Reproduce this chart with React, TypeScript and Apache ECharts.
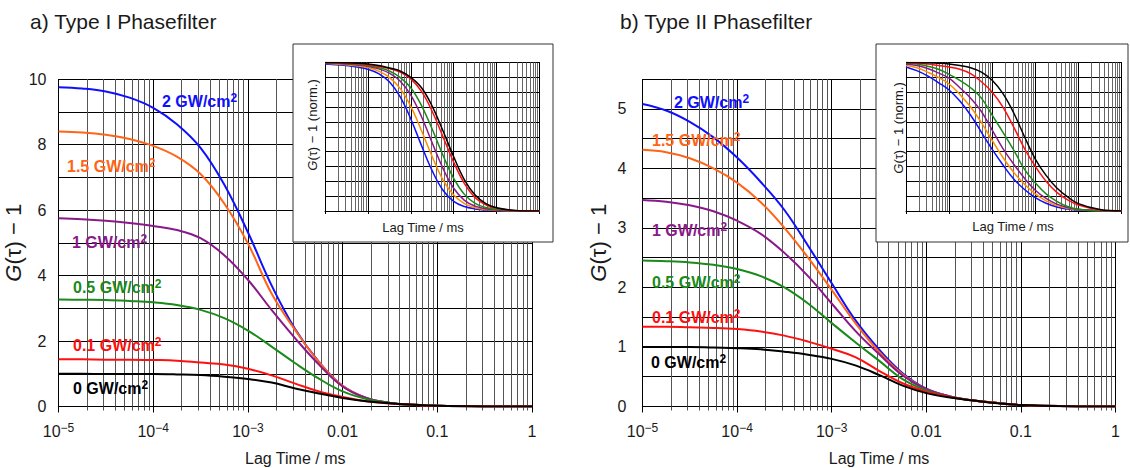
import React, { useEffect, useRef } from "react";
import * as echarts from "echarts";

// log10 of lag time (ms)
const LOG_TAU = [-5, -4.75, -4.5, -4.25, -4, -3.75, -3.5, -3.25, -3, -2.75, -2.5, -2.25, -2, -1.75, -1.5, -1.25, -1, -0.5, 0];

const INTENSITY_LABELS = ["2", "1.5", "1", "0.5", "0.1", "0"];

// Panel a) Type I Phasefilter, G(tau) - 1
const A_2 = [9.75, 9.71, 9.62, 9.43, 9.12, 8.62, 7.9, 6.78, 5.32, 3.7, 2.36, 1.36, 0.63, 0.26, 0.11, 0.05, 0.02, 0.003, 0];
const A_15 = [8.4, 8.37, 8.3, 8.17, 7.96, 7.63, 7.1, 6.2, 4.98, 3.45, 2.33, 1.36, 0.63, 0.26, 0.11, 0.05, 0.02, 0.003, 0];
const A_1 = [5.75, 5.72, 5.67, 5.6, 5.51, 5.39, 5.14, 4.62, 3.87, 2.95, 2.08, 1.28, 0.61, 0.26, 0.11, 0.05, 0.02, 0.003, 0];
const A_05 = [3.27, 3.26, 3.25, 3.22, 3.18, 3.1, 2.95, 2.7, 2.32, 1.83, 1.32, 0.85, 0.46, 0.23, 0.11, 0.05, 0.02, 0.003, 0];
const A_01 = [1.44, 1.44, 1.43, 1.43, 1.42, 1.4, 1.34, 1.28, 1.15, 0.95, 0.7, 0.46, 0.29, 0.16, 0.09, 0.05, 0.02, 0.003, 0];
const A_0 = [1.0, 1.0, 0.99, 0.99, 0.99, 0.98, 0.96, 0.91, 0.84, 0.73, 0.55, 0.4, 0.26, 0.16, 0.1, 0.05, 0.02, 0.003, 0];

// Panel b) Type II Phasefilter, G(tau) - 1
const B_2 = [5.08, 4.97, 4.78, 4.52, 4.18, 3.77, 3.3, 2.7, 2.07, 1.45, 0.96, 0.56, 0.3, 0.17, 0.1, 0.06, 0.025, 0.005, 0];
const B_15 = [4.31, 4.27, 4.17, 4.0, 3.76, 3.43, 3.0, 2.5, 1.96, 1.4, 0.92, 0.54, 0.29, 0.17, 0.1, 0.06, 0.025, 0.005, 0];
const B_1 = [3.47, 3.44, 3.38, 3.28, 3.12, 2.9, 2.58, 2.19, 1.73, 1.27, 0.88, 0.52, 0.29, 0.17, 0.1, 0.06, 0.025, 0.005, 0];
const B_05 = [2.45, 2.44, 2.42, 2.38, 2.31, 2.19, 2.0, 1.73, 1.4, 1.08, 0.77, 0.46, 0.27, 0.16, 0.1, 0.06, 0.025, 0.005, 0];
const B_01 = [1.34, 1.34, 1.33, 1.32, 1.3, 1.26, 1.19, 1.09, 0.97, 0.83, 0.6, 0.39, 0.25, 0.16, 0.1, 0.06, 0.025, 0.005, 0];
const B_0 = [1.0, 1.0, 1.0, 0.99, 0.98, 0.96, 0.92, 0.87, 0.8, 0.69, 0.53, 0.35, 0.225, 0.15, 0.1, 0.055, 0.025, 0.005, 0];

// Inset a) normalized
const IA_2 = [0.99, 0.985, 0.98, 0.97, 0.955, 0.925, 0.87, 0.77, 0.62, 0.44, 0.27, 0.14, 0.065, 0.03, 0.014, 0.006, 0.002, 0, 0];
const IA_15 = [0.995, 0.99, 0.985, 0.978, 0.966, 0.942, 0.9, 0.826, 0.704, 0.54, 0.365, 0.21, 0.107, 0.05, 0.022, 0.01, 0.004, 0, 0];
const IA_1 = [0.997, 0.995, 0.99, 0.983, 0.975, 0.957, 0.928, 0.875, 0.78, 0.635, 0.458, 0.287, 0.153, 0.072, 0.033, 0.015, 0.007, 0.001, 0];
const IA_05 = [0.998, 0.996, 0.993, 0.988, 0.98, 0.965, 0.943, 0.9, 0.83, 0.71, 0.55, 0.375, 0.22, 0.112, 0.052, 0.023, 0.01, 0.001, 0];
const IA_01 = [1.0, 0.998, 0.996, 0.992, 0.985, 0.973, 0.96, 0.935, 0.89, 0.805, 0.67, 0.5, 0.328, 0.185, 0.09, 0.042, 0.018, 0.002, 0];
const IA_0 = [1.0, 1.0, 0.998, 0.995, 0.99, 0.98, 0.963, 0.943, 0.9, 0.83, 0.705, 0.54, 0.365, 0.21, 0.107, 0.05, 0.022, 0.002, 0];

// Inset b) normalized
const IB_2 = [0.97, 0.945, 0.91, 0.865, 0.815, 0.74, 0.645, 0.53, 0.415, 0.31, 0.215, 0.145, 0.09, 0.052, 0.027, 0.013, 0.005, 0.001, 0];
const IB_15 = [0.98, 0.965, 0.935, 0.9, 0.855, 0.785, 0.7, 0.595, 0.475, 0.36, 0.26, 0.18, 0.115, 0.068, 0.036, 0.018, 0.008, 0.001, 0];
const IB_1 = [0.99, 0.98, 0.96, 0.93, 0.895, 0.83, 0.76, 0.67, 0.545, 0.42, 0.315, 0.22, 0.14, 0.085, 0.046, 0.024, 0.011, 0.002, 0];
const IB_05 = [0.995, 0.99, 0.975, 0.955, 0.92, 0.88, 0.83, 0.76, 0.645, 0.53, 0.41, 0.28, 0.19, 0.115, 0.065, 0.03, 0.012, 0.002, 0];
const IB_01 = [1.0, 0.995, 0.99, 0.98, 0.97, 0.955, 0.925, 0.87, 0.8, 0.7, 0.565, 0.42, 0.3, 0.2, 0.125, 0.075, 0.04, 0.007, 0];
const IB_0 = [1.0, 1.0, 0.998, 0.995, 0.99, 0.98, 0.965, 0.935, 0.88, 0.79, 0.66, 0.5, 0.35, 0.24, 0.155, 0.095, 0.05, 0.01, 0];

const MAIN_A = [A_2, A_15, A_1, A_05, A_01, A_0];
const MAIN_B = [B_2, B_15, B_1, B_05, B_01, B_0];
const INSET_A = [IA_2, IA_15, IA_1, IA_05, IA_01, IA_0];
const INSET_B = [IB_2, IB_15, IB_1, IB_05, IB_01, IB_0];

const COLORS = ["#1010ff", "#ff6418", "#8a1a8a", "#1a8a1a", "#ff1010", "#000000"];
const INSET_COLORS = ["#1010ff", "#ff8c00", "#8a1a8a", "#1a8a1a", "#ff1010", "#000000"];

const FONT = '"Liberation Sans", Arial, Helvetica, sans-serif';
const TXT = "#1a1a1a";

const MINOR: number[] = [];
for (let n = -5; n < 0; n++) for (let k = 2; k <= 9; k++) MINOR.push(n + Math.log10(k));

const fmtLog = (v: number) => {
  const r = Math.round(v);
  if (r === 0) return "{b|1}";
  if (r === -1) return "{b|0.1}";
  if (r === -2) return "{b|0.01}";
  return `{b|10}{s|\u2212${-r}}`;
};

const tickRich = {
  b: { fontSize: 16, lineHeight: 20, fontFamily: FONT, color: TXT },
  s: { fontSize: 12, lineHeight: 11, fontFamily: FONT, color: TXT, verticalAlign: "top" },
};

function mainX(grid: number) {
  return [
    {
      type: "value", gridIndex: grid, min: -5, max: 0, interval: 1, position: "bottom",
      axisLine: { show: true, lineStyle: { color: "#000", width: 1 } },
      axisTick: { show: true, inside: false, length: 6, lineStyle: { color: "#000" } },
      axisLabel: { show: true, margin: 15, formatter: fmtLog, rich: tickRich },
      splitLine: { show: true, lineStyle: { color: "#000", width: 1 } },
      name: "Lag Time / ms", nameLocation: "middle", nameGap: 44,
      nameTextStyle: { fontSize: 16, fontFamily: FONT, color: TXT },
    },
    {
      type: "value", gridIndex: grid, min: -5, max: 0, position: "bottom",
      axisLine: { show: false },
      axisTick: { show: true, customValues: MINOR, length: 4, lineStyle: { color: "#555" } },
      axisLabel: { show: false },
      splitLine: { show: true, lineStyle: { color: "#555", width: 1 } },
    },
  ];
}

function insetX(grid: number) {
  return [
    {
      type: "value", gridIndex: grid, min: -5, max: 0, interval: 1, position: "bottom", z: 20,
      axisLine: { show: true, lineStyle: { color: "#000", width: 1 } },
      axisTick: { show: true, length: 3, lineStyle: { color: "#000" } },
      axisLabel: { show: false },
      splitLine: { show: true, lineStyle: { color: "#000", width: 1 } },
    },
    {
      type: "value", gridIndex: grid, min: -5, max: 0, position: "bottom", z: 20,
      axisLine: { show: false },
      axisTick: { show: false, customValues: MINOR },
      axisLabel: { show: false },
      splitLine: { show: true, lineStyle: { color: "#666", width: 1 } },
    },
  ];
}

const yName = (size: number, rest: string) => ({
  name: `{i|G}{n|${rest}}`,
  nameTextStyle: {
    rich: {
      i: { fontSize: size, fontStyle: "italic", fontFamily: FONT, color: TXT },
      n: { fontSize: size, fontFamily: FONT, color: TXT },
    },
  },
});

function lineSeries(vals: number[], color: string, xi: number, yi: number, z: number, width: number) {
  return {
    type: "line", xAxisIndex: xi, yAxisIndex: yi, z, silent: true,
    data: LOG_TAU.map((x, i) => [x, vals[i]]),
    showSymbol: false, symbol: "none", smooth: 0.4,
    lineStyle: { color, width }, emphasis: { disabled: true },
  };
}

function label(text: string, x: number, y: number, color: string) {
  return {
    type: "text", x, y, z: 5, silent: true,
    style: {
      text: `{m|${text} GW/cm}{s|2}`,
      fill: color, align: "left", verticalAlign: "middle",
      rich: {
        m: { fontSize: 16, fontWeight: "bold", fontFamily: FONT, fill: color, lineHeight: 18 },
        s: { fontSize: 12, fontWeight: "bold", fontFamily: FONT, fill: color, lineHeight: 10, verticalAlign: "top" },
      },
    },
  };
}

const LABEL_POS_A = [[162, 101], [67, 166], [72, 242], [73, 287], [73, 345], [73, 388]];
const LABEL_POS_B = [[674, 102], [652, 140], [652, 230], [652, 282], [652, 317], [651, 362]];

export default function App() {
  const ref = useRef<HTMLDivElement>(null);
  useEffect(() => {
    if (!ref.current) return;
    const chart = echarts.init(ref.current, undefined, { renderer: "svg" });

    const series: any[] = [];
    MAIN_A.forEach((v, i) => series.push(lineSeries(v, COLORS[i], 0, 0, 2, 2)));
    MAIN_B.forEach((v, i) => series.push(lineSeries(v, COLORS[i], 2, 1, 2, 2)));
    INSET_A.forEach((v, i) => series.push(lineSeries(v, INSET_COLORS[i], 4, 2, 30, 1.5)));
    INSET_B.forEach((v, i) => series.push(lineSeries(v, INSET_COLORS[i], 6, 3, 30, 1.5)));

    const graphic: any[] = [
      { type: "text", x: 30, y: 21, silent: true, style: { text: "a) Type I Phasefilter", fontSize: 21, fontFamily: FONT, fill: TXT, verticalAlign: "middle" } },
      { type: "text", x: 620, y: 21, silent: true, style: { text: "b) Type II Phasefilter", fontSize: 21, fontFamily: FONT, fill: TXT, verticalAlign: "middle" } },
      { type: "rect", z: 10, silent: true, shape: { x: 293, y: 44, width: 260, height: 198 }, style: { fill: "#fff", stroke: "#333", lineWidth: 1 } },
      { type: "rect", z: 10, silent: true, shape: { x: 876, y: 44, width: 252, height: 198 }, style: { fill: "#fff", stroke: "#333", lineWidth: 1 } },
      {
        type: "text", z: 25, x: 312, y: 125, rotation: Math.PI / 2, silent: true,
        style: {
          text: "{i|G}{n|(\u03c4) \u2212 1 (norm.)}", align: "center", verticalAlign: "middle",
          rich: { i: { fontSize: 13, fontStyle: "italic", fontFamily: FONT, fill: TXT }, n: { fontSize: 13, fontFamily: FONT, fill: TXT } },
        },
      },
      {
        type: "text", z: 25, x: 898, y: 128, rotation: Math.PI / 2, silent: true,
        style: {
          text: "{i|G}{n|(\u03c4) \u2212 1 (norm.)}", align: "center", verticalAlign: "middle",
          rich: { i: { fontSize: 13, fontStyle: "italic", fontFamily: FONT, fill: TXT }, n: { fontSize: 13, fontFamily: FONT, fill: TXT } },
        },
      },
      { type: "text", z: 25, x: 423, y: 227, silent: true, style: { text: "Lag Time / ms", fontSize: 13, fontFamily: FONT, fill: TXT, align: "center", verticalAlign: "middle" } },
      { type: "text", z: 25, x: 1013, y: 226, silent: true, style: { text: "Lag Time / ms", fontSize: 13, fontFamily: FONT, fill: TXT, align: "center", verticalAlign: "middle" } },
    ];
    INTENSITY_LABELS.forEach((t, i) => {
      graphic.push(label(t, LABEL_POS_A[i][0], LABEL_POS_A[i][1], COLORS[i]));
      graphic.push(label(t, LABEL_POS_B[i][0], LABEL_POS_B[i][1], COLORS[i]));
    });

    const gridBase = { show: false, containLabel: false, outerBoundsMode: "none" };
    const option: any = {
      animation: false,
      backgroundColor: "#fff",
      grid: [
        { ...gridBase, left: 58.5, top: 79, width: 473.5, height: 327.5 },
        { ...gridBase, left: 642.5, top: 79, width: 473, height: 327.5 },
        { ...gridBase, left: 325, top: 62.5, width: 214.5, height: 148.5 },
        { ...gridBase, left: 906, top: 62.5, width: 215.5, height: 148.5 },
      ],
      xAxis: [...mainX(0), ...mainX(1), ...insetX(2), ...insetX(3)],
      yAxis: [
        {
          type: "value", gridIndex: 0, min: 0, max: 10, interval: 2,
          axisLine: { show: true, lineStyle: { color: "#000" } },
          axisTick: { show: true, length: 6, lineStyle: { color: "#000" } },
          minorTick: { show: true, splitNumber: 2, length: 3, lineStyle: { color: "#000" } },
          minorSplitLine: { show: true, lineStyle: { color: "#000", width: 1 } },
          splitLine: { show: true, lineStyle: { color: "#000", width: 1 } },
          axisLabel: { margin: 12, fontSize: 16, fontFamily: FONT, color: TXT },
          nameLocation: "middle", nameGap: 29, ...yName(22, "(\u03c4) \u2212 1"),
        },
        {
          type: "value", gridIndex: 1, min: 0, max: 5.5, interval: 1,
          axisLine: { show: true, lineStyle: { color: "#000" } },
          axisTick: { show: true, length: 6, lineStyle: { color: "#000" } },
          minorTick: { show: true, splitNumber: 2, length: 3, lineStyle: { color: "#000" } },
          minorSplitLine: { show: true, lineStyle: { color: "#000", width: 1 } },
          splitLine: { show: true, lineStyle: { color: "#000", width: 1 } },
          axisLabel: { margin: 16, fontSize: 16, fontFamily: FONT, color: TXT, formatter: (v: number) => (Math.abs(v - Math.round(v)) < 1e-6 ? String(Math.round(v)) : "") },
          nameLocation: "middle", nameGap: 33, ...yName(22, "(\u03c4) \u2212 1"),
        },
        {
          type: "value", gridIndex: 2, min: 0, max: 1, interval: 0.1, z: 20,
          axisLine: { show: true, lineStyle: { color: "#000" } },
          axisTick: { show: true, length: 3, lineStyle: { color: "#000" } },
          axisLabel: { show: false },
          splitLine: { show: true, lineStyle: { color: "#000", width: 1 } },
        },
        {
          type: "value", gridIndex: 3, min: 0, max: 1, interval: 0.1, z: 20,
          axisLine: { show: true, lineStyle: { color: "#000" } },
          axisTick: { show: true, length: 3, lineStyle: { color: "#000" } },
          axisLabel: { show: false },
          splitLine: { show: true, lineStyle: { color: "#000", width: 1 } },
        },
      ],
      series,
      graphic,
    };
    chart.setOption(option);
    return () => chart.dispose();
  }, []);

  return (
    <div
      ref={ref}
      style={{ position: "fixed", left: 0, top: 0, width: 1130, height: 468, background: "#fff" }}
    />
  );
}
